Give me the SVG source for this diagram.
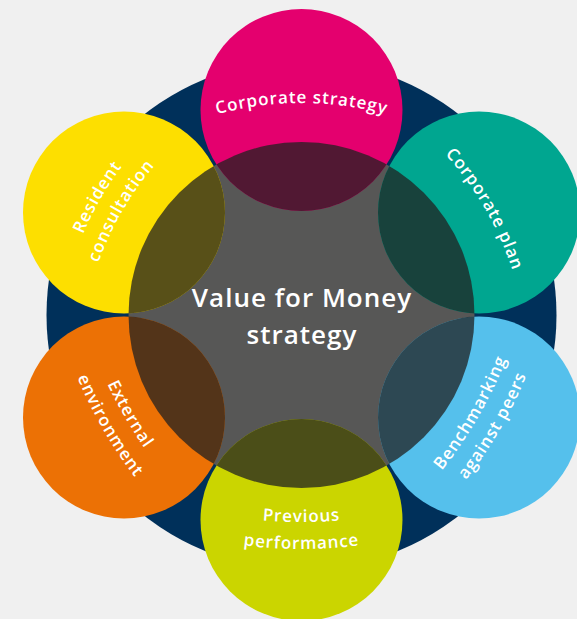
<svg xmlns="http://www.w3.org/2000/svg" width="577" height="619" viewBox="0 0 577 619">
  <style>
    .lbl { font-family: "Open Sans", "Liberation Sans", sans-serif; font-weight: 600; font-size: 17px; fill: #ffffff; letter-spacing: 0.9px; }
    .title { font-family: "Open Sans", "Liberation Sans", sans-serif; font-weight: 600; font-size: 26px; fill: #ffffff; letter-spacing: 1px; text-anchor: middle; }
    .lens { fill: #202020; fill-opacity: 0.75; }
  </style>
  <defs>
    <clipPath id="hub-clip">
      <circle cx="301.5" cy="315" r="173"/>
    </clipPath>
    <!-- label baselines, drawn for the top position and rotated about the hub -->
    <path id="arc-top-212" d="M192.05,122.3 A320,320 0 0 1 410.95,122.3"/>
    <path id="arc-top-232" d="M192.05,102.3 A320,320 0 0 1 410.95,102.3"/>
    <path id="arc-top-207" d="M192.05,127.3 A320,320 0 0 1 410.95,127.3"/>
    <!-- label baselines, drawn for the bottom position (reading the other way, flatter) -->
    <path id="arc-bot-207" d="M191.5,508.4 A450,450 0 0 0 411.5,508.4"/>
    <path id="arc-bot-234" d="M191.5,535.4 A450,450 0 0 0 411.5,535.4"/>
    <path id="arc-bot-204" d="M191.5,505.4 A450,450 0 0 0 411.5,505.4"/>
    <path id="arc-bot-229" d="M191.5,530.4 A450,450 0 0 0 411.5,530.4"/>
  </defs>

  <rect width="577" height="619" fill="#f0f0f0"/>

  <g id="hub-ring">
    <circle cx="301.5" cy="315" r="255" fill="#00305a"/>
    <circle cx="301.5" cy="315" r="173" fill="#575756"/>
  </g>

  <g id="node-corporate-strategy">
    <circle cx="301.5" cy="110" r="101" fill="#e4006e"/>
    <circle cx="301.5" cy="110" r="101" class="lens" clip-path="url(#hub-clip)"/>
    <text class="lbl"><textPath href="#arc-top-212" startOffset="50%" text-anchor="middle">Corporate strategy</textPath></text>
  </g>

  <g id="node-corporate-plan">
    <circle cx="479" cy="212.5" r="101" fill="#00a690"/>
    <circle cx="479" cy="212.5" r="101" class="lens" clip-path="url(#hub-clip)"/>
    <text class="lbl" transform="rotate(60 301.5 315)"><textPath href="#arc-top-212" startOffset="50%" text-anchor="middle">Corporate plan</textPath></text>
  </g>

  <g id="node-benchmarking">
    <circle cx="479" cy="417.5" r="101" fill="#55c0ec"/>
    <circle cx="479" cy="417.5" r="101" class="lens" clip-path="url(#hub-clip)"/>
    <g transform="rotate(-60 301.5 315)">
      <text class="lbl"><textPath href="#arc-bot-204" startOffset="50%" text-anchor="middle">Benchmarking</textPath></text>
      <text class="lbl"><textPath href="#arc-bot-229" startOffset="50%" text-anchor="middle">against peers</textPath></text>
    </g>
  </g>

  <g id="node-previous-performance">
    <circle cx="301.5" cy="520" r="101" fill="#cbd500"/>
    <circle cx="301.5" cy="520" r="101" class="lens" clip-path="url(#hub-clip)"/>
    <text class="lbl"><textPath href="#arc-bot-207" startOffset="50%" text-anchor="middle">Previous</textPath></text>
    <text class="lbl"><textPath href="#arc-bot-234" startOffset="50%" text-anchor="middle">performance</textPath></text>
  </g>

  <g id="node-external-environment">
    <circle cx="124" cy="417.5" r="101" fill="#ec7105"/>
    <circle cx="124" cy="417.5" r="101" class="lens" clip-path="url(#hub-clip)"/>
    <g transform="rotate(60 301.5 315)">
      <text class="lbl"><textPath href="#arc-bot-204" startOffset="50%" text-anchor="middle">External</textPath></text>
      <text class="lbl"><textPath href="#arc-bot-229" startOffset="50%" text-anchor="middle">environment</textPath></text>
    </g>
  </g>

  <g id="node-resident-consultation">
    <circle cx="124" cy="212.5" r="101" fill="#fddf00"/>
    <circle cx="124" cy="212.5" r="101" class="lens" clip-path="url(#hub-clip)"/>
    <g transform="rotate(-60 301.5 315)">
      <text class="lbl"><textPath href="#arc-top-232" startOffset="50%" text-anchor="middle">Resident</textPath></text>
      <text class="lbl"><textPath href="#arc-top-207" startOffset="50%" text-anchor="middle">consultation</textPath></text>
    </g>
  </g>

  <g id="node-value-for-money">
    <text class="title" x="302" y="307">Value for Money</text>
    <text class="title" x="302" y="344">strategy</text>
  </g>
</svg>
